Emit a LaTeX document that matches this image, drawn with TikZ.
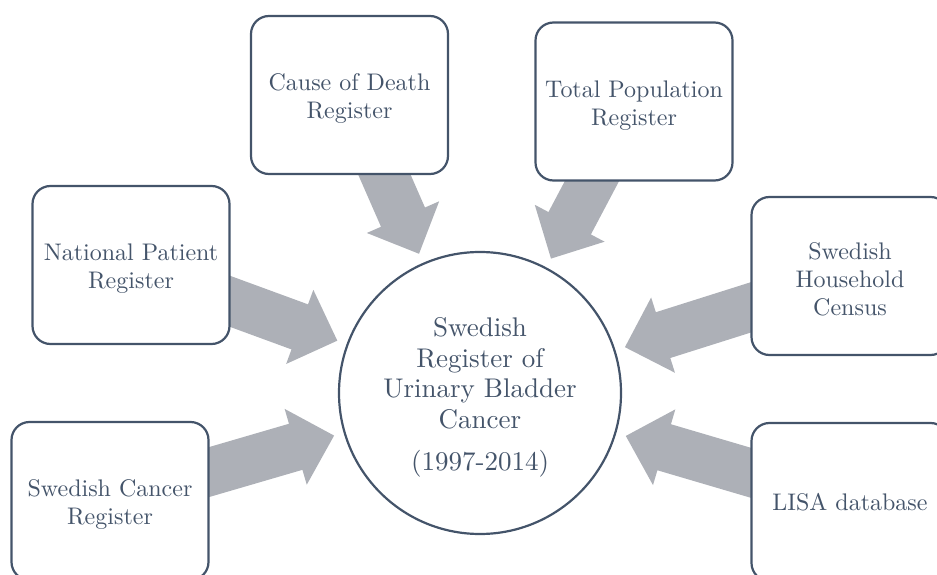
\documentclass[tikz,border=0pt]{standalone}
\usepackage{fontspec}
\setmainfont{lmroman10-regular.otf}
\usetikzlibrary{calc,backgrounds}
\definecolor{txtc}{HTML}{44546A}
\definecolor{arrc}{RGB}{173,176,183}
\newcommand{\boxtop}{\rule{0pt}{24pt}}
\newcommand{\hubtop}{\rule{0pt}{28pt}}
\tikzset{
  srcbox/.style={draw=txtc, line width=2.2pt, fill=white, rounded corners=18pt,
    minimum width=197pt, minimum height=158pt, text=txtc, align=center,
    font=\fontsize{24}{28}\selectfont, inner sep=0pt},
  hub/.style={circle, draw=txtc, line width=2.2pt, fill=white, minimum size=282pt,
    inner sep=0pt, text=txtc, align=center, font=\fontsize{27}{30.5}\selectfont},
  flowarrow/.style={fill=arrc},
}
\newcommand{\blockarrow}[2]{%
  \coordinate (#1-B) at ($(#2.center)!192pt!(#1.center)$);
  \coordinate (#1-T) at ($(#2.center)!152pt!(#1.center)$);
  \fill[flowarrow] ($(#1.center)!24pt!90:(#1-T)$) -- ($(#1-B)!24pt!90:(#1-T)$)
    -- ($(#1-B)!39.5pt!90:(#1-T)$) -- (#1-T) -- ($(#1-B)!39.5pt!-90:(#1-T)$)
    -- ($(#1-B)!24pt!-90:(#1-T)$) -- ($(#1.center)!24pt!-90:(#1-T)$) -- cycle;
}
\begin{document}
\begin{tikzpicture}[x=1pt,y=-1pt]
\path[use as bounding box] (0,0) rectangle (937,575);
\clip (0,0) rectangle (937,575);
\node[hub] (hub) at (480,393) {\hubtop Swedish\\Register of\\Urinary Bladder\\Cancer\\[11.5pt](1997-2014)};
\node[srcbox] (cod) at (349.5,95) {\boxtop Cause of Death\\Register};
\node[srcbox] (tpr) at (634,101.5) {\boxtop Total Population\\Register};
\node[srcbox] (npr) at (131,265) {\boxtop National Patient\\Register};
\node[srcbox] (shc) at (850,276) {\boxtop Swedish\\Household\\Census};
\node[srcbox] (scr) at (110,501) {\boxtop Swedish Cancer\\Register};
\node[srcbox] (lisa) at (850,502) {LISA database};
\begin{scope}[on background layer]
  \blockarrow{cod}{hub}
  \blockarrow{tpr}{hub}
  \blockarrow{npr}{hub}
  \blockarrow{shc}{hub}
  \blockarrow{scr}{hub}
  \blockarrow{lisa}{hub}
\end{scope}
\end{tikzpicture}
\end{document}
